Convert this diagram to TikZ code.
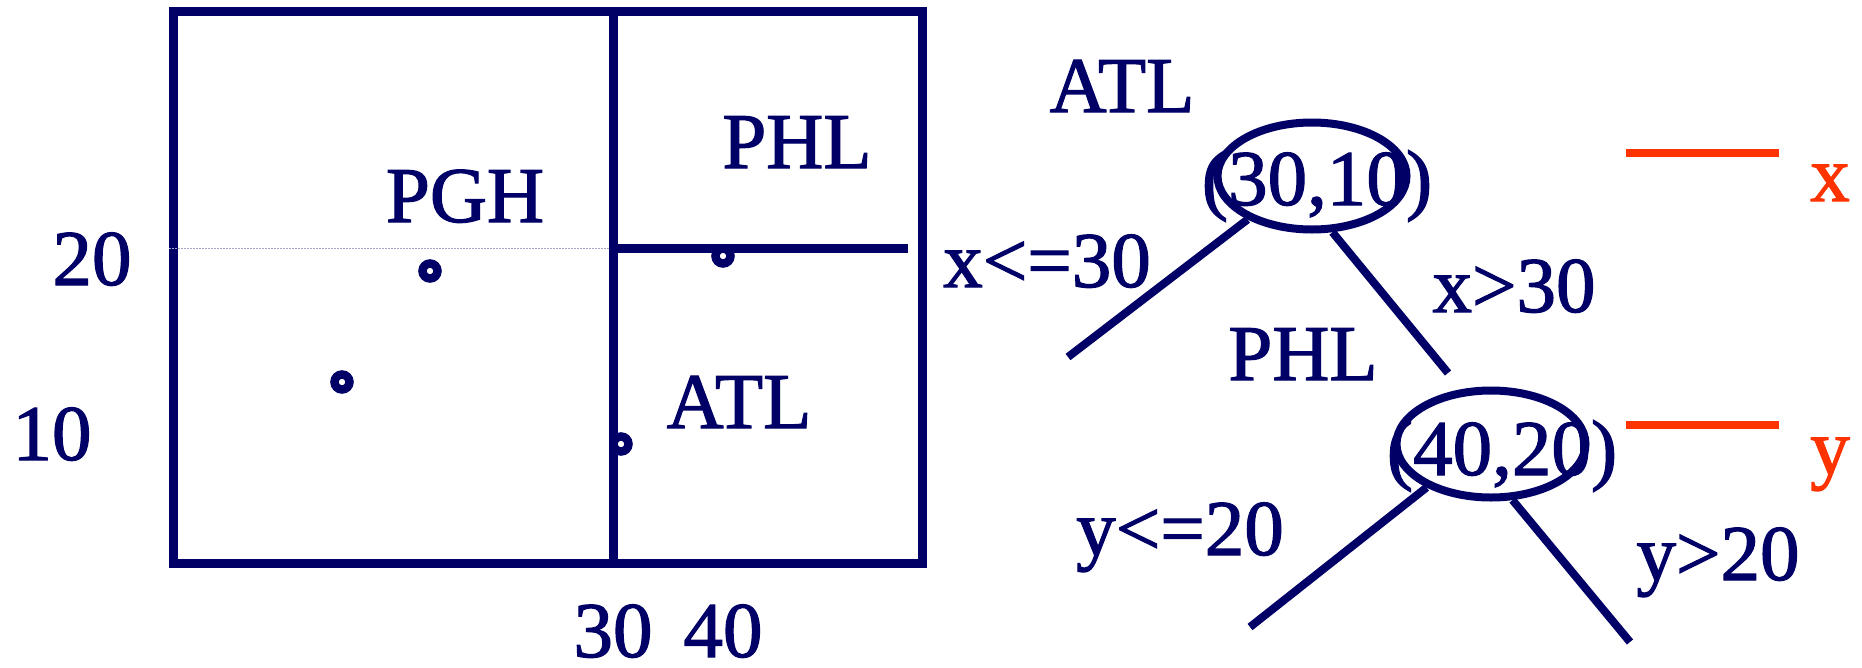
\documentclass[tikz,border=0pt]{standalone}
\usepackage{fontspec}
\setmainfont{Liberation Serif}[FakeBold=1.5]
\usetikzlibrary{shapes.geometric}
\definecolor{navy}{RGB}{0,0,102}
\definecolor{redorange}{RGB}{255,51,0}
\begin{document}
\begin{tikzpicture}[x=1pt,y=-1pt,
  lbl/.style={text=navy, anchor=base, inner sep=0pt, font=\fontsize{79}{90}\selectfont},
  rlbl/.style={lbl, text=redorange},
  frame/.style={draw=navy, line width=9pt},
  guide/.style={draw=navy!35, line width=1pt, dash pattern=on 1.5pt off 1.5pt},
  pt/.style={circle, draw=navy, line width=8.5pt, minimum size=15pt, inner sep=0pt},
  knode/.style={ellipse, draw=navy, line width=8pt, minimum width=189pt, minimum height=107pt, inner sep=0pt},
  branch/.style={draw=navy, line width=8pt},
  legend/.style={draw=redorange, line width=8.5pt}]
\useasboundingbox (0,0) rectangle (1862,667);

% --- space partition ---
\draw[frame] (173,11) rectangle (922,563);
\draw[frame] (613,11) -- (613,563);
\draw[frame] (613,248) -- (908,248);
\draw[guide] (169,248) -- (609,248);

\node[pt] (p1) at (430,271) {};
\node[pt] (p2) at (342,382) {};
\node[pt] (p3) at (723,256) {};
\node[pt] (p4) at (621,444) {};

\node[lbl] (y20) at (92,285) {20};
\node[lbl] (y10) at (52,460) {10};
\node[lbl] (x30) at (613,657) {30};
\node[lbl] (x40) at (723,657) {40};
\node[lbl] (pgh) at (465,222) {PGH};
\node[lbl] (phl) at (797,168) {PHL};
\node[lbl] (atl) at (739,428) {ATL};

% --- k-d tree ---
\node[knode] (n1) at (1312,176) {};
\node[knode] (n2) at (1491,444) {};
\node[lbl] (t1) at (1317,205) {(30,10)};
\node[lbl] (t2) at (1502,475) {(40,20)};
\node[lbl] (tatl) at (1122,112) {ATL};
\node[lbl] (tphl) at (1303,380) {PHL};

\coordinate (l1) at (1068,357);
\coordinate (r1) at (1448,373);
\coordinate (l2) at (1250,627);
\coordinate (r2) at (1630,642);
\draw[branch] (n1.214) -- (l1);
\draw[branch] (n1.290) -- (r1);
\draw[branch] (n2.214) -- (l2);
\draw[branch] (n2.291) -- (r2);

\node[lbl] (e1) at (1047,287) {x<=30};
\node[lbl] (e2) at (1514,312) {x>30};
\node[lbl] (e3) at (1180,555) {y<=20};
\node[lbl] (e4) at (1718,580) {y>20};

% --- legend ---
\coordinate (lx1) at (1626,153);
\coordinate (lx2) at (1779,153);
\coordinate (ly1) at (1626,425);
\coordinate (ly2) at (1779,425);
\draw[legend] (lx1) -- (lx2);
\draw[legend] (ly1) -- (ly2);
\node[rlbl] (lx) at (1830,201) {x};
\node[rlbl] (ly) at (1830,474) {y};
\end{tikzpicture}
\end{document}
